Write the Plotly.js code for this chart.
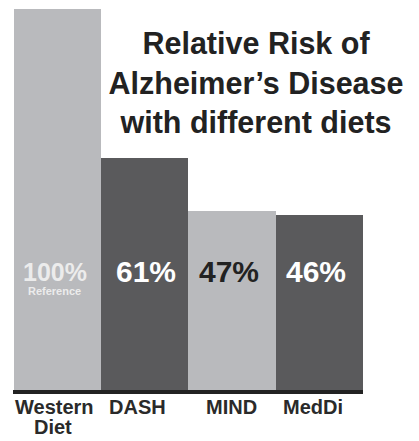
<!DOCTYPE html>
<html>
<head>
<meta charset="utf-8">
<script src="https://cdn.plot.ly/plotly-3.0.1.min.js"></script>
<style>
  html, body { margin: 0; padding: 0; background: #ffffff; }
  #chart { width: 419px; height: 441px; }
</style>
</head>
<body>
<div id="chart"></div>
<script>
// Relative risk of Alzheimer's disease by diet (Western diet = 100% reference)
const diets = ["Western", "DASH", "MIND", "MedDi"];
const dietLabelLines = [["Western", "Diet"], ["DASH"], ["MIND"], ["MedDi"]];
const relativeRisk = [100, 61, 47, 46];
const referenceNote = "Reference";

const LIGHT = "#b9babd";
const DARK = "#5a5a5c";
const barColors = [LIGHT, DARK, LIGHT, DARK];
const valueColors = ["#ececec", "#ffffff", "#222222", "#ffffff"];
const valueSizes = [25, 30, 30, 30];
const valueShift = [-3, 1, -3, -3];
const labelShift = [-3, -7, -1, -6];
const LABEL_LINE = 20;

const FONT = "Liberation Sans, Arial, sans-serif";

const trace = {
  type: "bar",
  x: diets,
  y: relativeRisk,
  marker: { color: barColors, line: { width: 0 } },
  hoverinfo: "skip"
};

const annotations = [];
diets.forEach((d, i) => {
  // percentage printed inside each bar
  annotations.push({
    x: d, y: 31, xref: "x", yref: "y",
    text: "<b>" + relativeRisk[i] + "%</b>",
    showarrow: false,
    xanchor: "center", yanchor: "middle",
    xshift: valueShift[i],
    font: { family: FONT, size: valueSizes[i], color: valueColors[i] }
  });
  // category name under the axis, one annotation per line
  dietLabelLines[i].forEach((line, k) => {
    annotations.push({
      x: d, y: 0, xref: "x", yref: "paper",
      text: "<b>" + line + "</b>",
      showarrow: false,
      xanchor: "center", yanchor: "top",
      xshift: labelShift[i] - 2 * k, yshift: -4 - LABEL_LINE * k,
      font: { family: FONT, size: 20, color: "#2a2a2a" }
    });
  });
});
// note beneath the reference value
annotations.push({
  x: diets[0], y: 26, xref: "x", yref: "y",
  text: "<b>" + referenceNote + "</b>",
  showarrow: false,
  xanchor: "center", yanchor: "middle",
  xshift: -3,
  font: { family: FONT, size: 11, color: "#ececec" }
});

const layout = {
  width: 419,
  height: 441,
  margin: { l: 13, r: 56, t: 9, b: 51 },
  paper_bgcolor: "#ffffff",
  plot_bgcolor: "#ffffff",
  showlegend: false,
  bargap: 0,
  title: {
    text: "<b>Relative Risk of<br>Alzheimer’s Disease<br>with different diets</b>",
    xref: "container", yref: "container",
    x: 256 / 419, xanchor: "center",
    y: 1 - 54 / 441, yanchor: "top",
    font: { family: FONT, size: 30.5, color: "#222222" }
  },
  xaxis: {
    showticklabels: false,
    showgrid: false,
    zeroline: false,
    showline: true,
    linecolor: "#222222",
    linewidth: 4,
    ticks: "",
    fixedrange: true
  },
  yaxis: {
    range: [0, 100],
    visible: false,
    showgrid: false,
    zeroline: false,
    fixedrange: true
  },
  annotations: annotations
};

Plotly.newPlot("chart", [trace], layout, { displayModeBar: false, staticPlot: true });
</script>
</body>
</html>
